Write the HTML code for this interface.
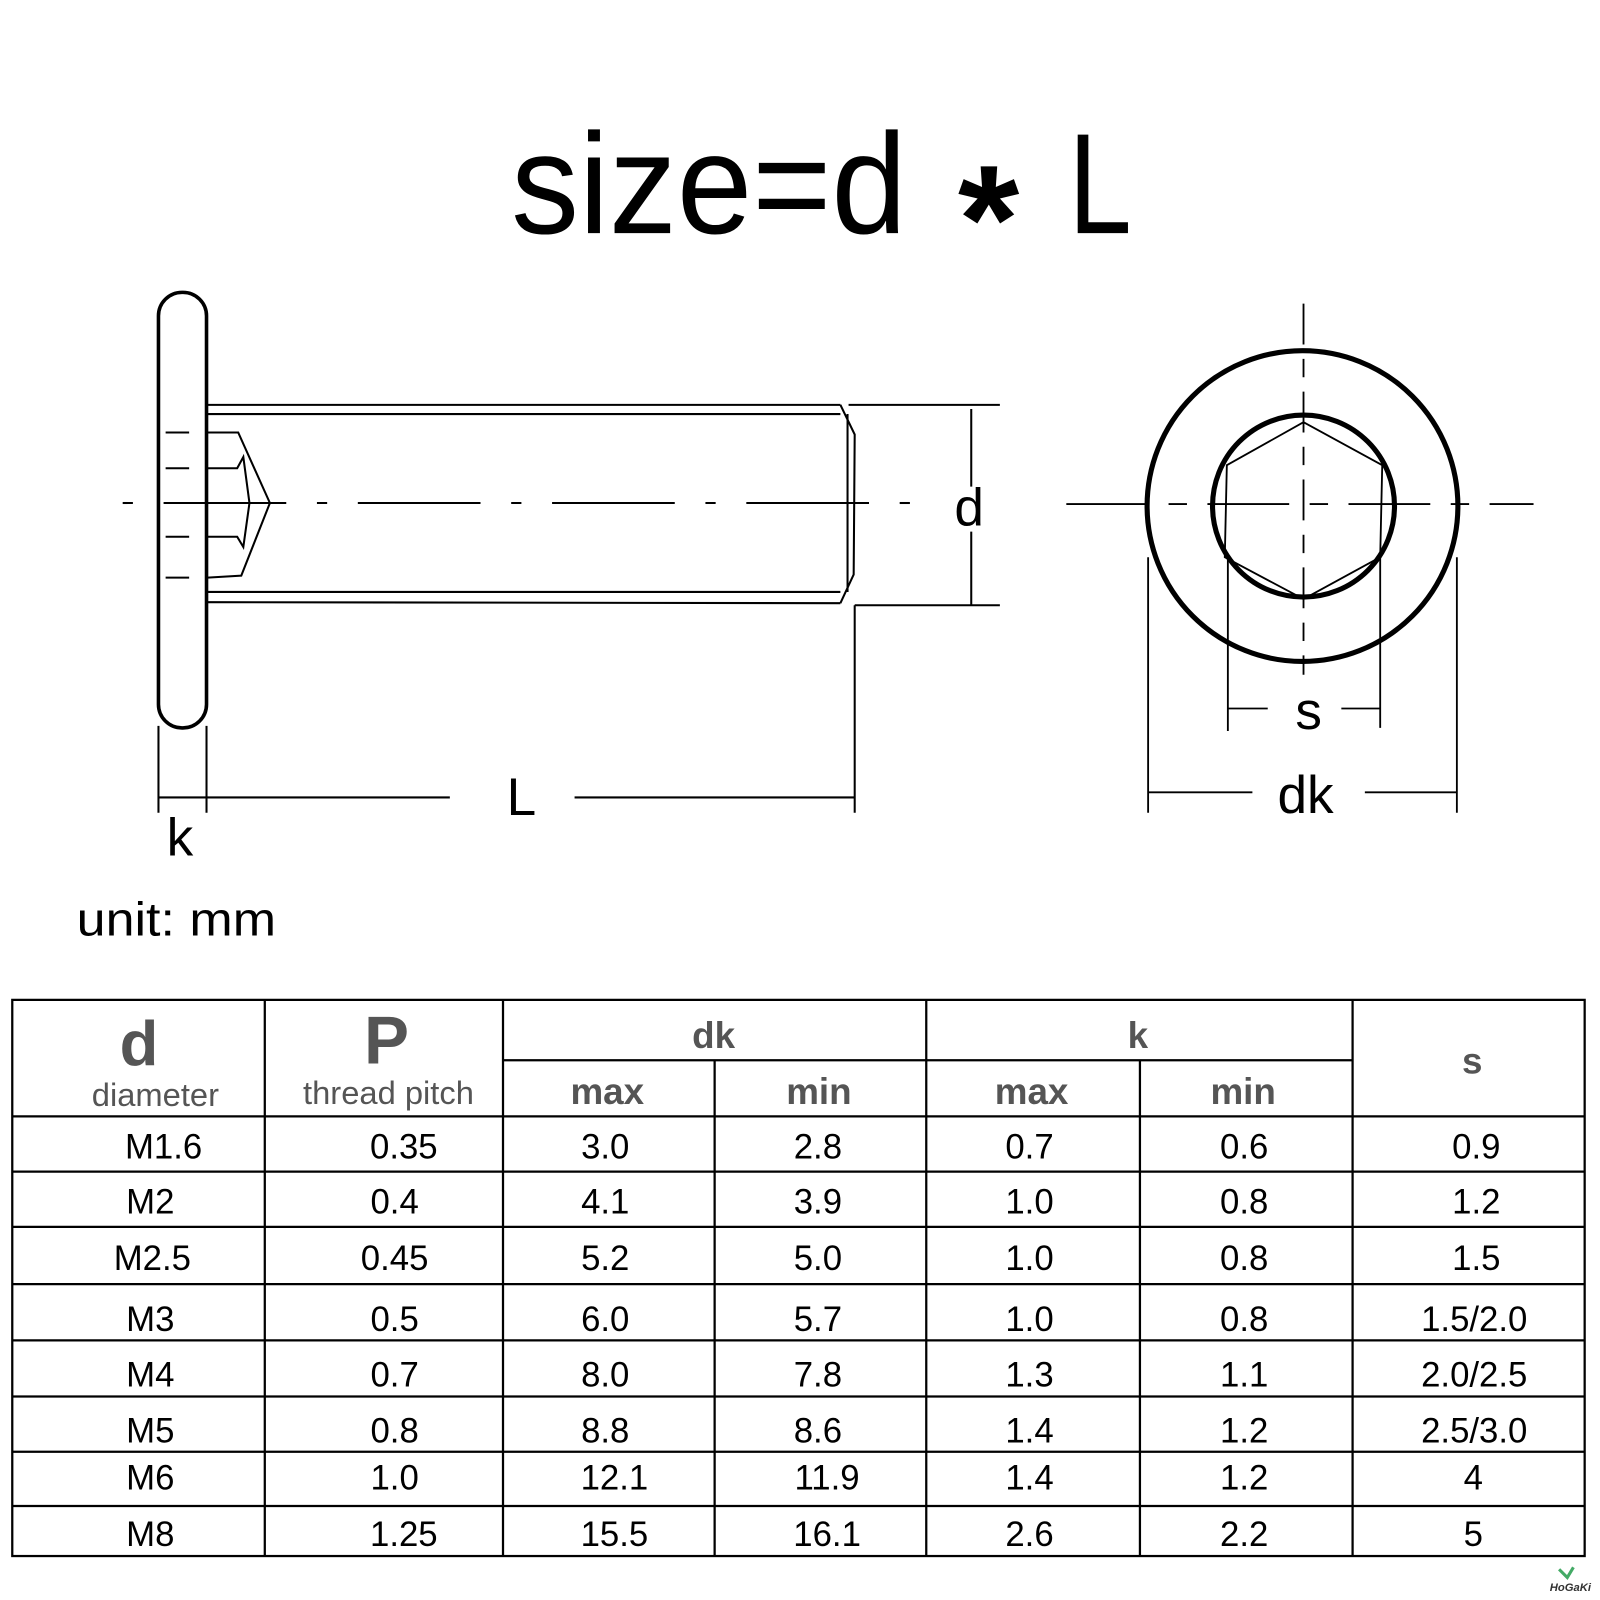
<!DOCTYPE html>
<html><head><meta charset="utf-8"><style>
html,body{margin:0;padding:0;background:#fff}
svg{display:block}
text{font-family:"Liberation Sans",sans-serif}
</style></head><body>
<svg width="1600" height="1600" viewBox="0 0 1565 1565" xmlns="http://www.w3.org/2000/svg">
<rect width="1565" height="1565" fill="#fff"/>
<text x="500" y="228" font-size="140" textLength="387" lengthAdjust="spacingAndGlyphs">size=d</text>
<text x="937" y="266" font-size="150" font-weight="bold" textLength="60" lengthAdjust="spacingAndGlyphs">*</text>
<text x="1045" y="228" font-size="140" textLength="62" lengthAdjust="spacingAndGlyphs">L</text>

<g fill="none" stroke="#000">
<rect x="155" y="286" width="47" height="426" rx="23" stroke-width="3.5"/>
<g stroke-width="2">
<line x1="203" y1="396" x2="822" y2="396"/><line x1="203" y1="405" x2="822" y2="405"/>
<line x1="203" y1="579" x2="822" y2="579"/><line x1="203" y1="589" x2="822" y2="590"/>
<polyline points="822,396 836,425 835,562 822,590"/>
<line x1="829" y1="405" x2="829" y2="579"/>
<polyline points="203,423 233,423 264,492 236,563 203,565"/>
<polyline points="203,458 232,458 238,447 244,492 238,535 232,525 203,525"/>
<line x1="162" y1="423" x2="185" y2="423"/><line x1="162" y1="458" x2="185" y2="458"/>
<line x1="162" y1="525" x2="185" y2="525"/><line x1="162" y1="565" x2="185" y2="565"/>
<line x1="90" y1="492" x2="905" y2="492" stroke-dasharray="120,30,10,30" stroke-dashoffset="-70"/>
<line x1="830" y1="396" x2="978" y2="396"/><line x1="836" y1="592" x2="978" y2="592"/>
<line x1="950" y1="400" x2="950" y2="476"/><line x1="950" y1="520" x2="950" y2="592"/>
<line x1="836" y1="592" x2="836" y2="795"/>
<line x1="155" y1="780" x2="440" y2="780"/><line x1="562" y1="780" x2="836" y2="780"/>
<line x1="155" y1="710" x2="155" y2="795"/><line x1="202" y1="710" x2="202" y2="795"/>
</g>
<circle cx="1274" cy="495" r="152" stroke-width="5"/>
<circle cx="1275" cy="495" r="89" stroke-width="5"/>
<g stroke-width="1.8">
<polygon points="1275,413 1352,455 1350,545 1275,586 1198,545 1200,455"/>
<line x1="1043" y1="493" x2="1500" y2="493" stroke-dasharray="80,20,18,20"/>
<line x1="1275" y1="297" x2="1275" y2="660" stroke-dasharray="40,14,18,14"/>
<line x1="1201" y1="545" x2="1201" y2="715"/><line x1="1350" y1="545" x2="1350" y2="712"/>
<line x1="1201" y1="693" x2="1240" y2="693"/><line x1="1312" y1="693" x2="1350" y2="693"/>
<line x1="1123" y1="545" x2="1123" y2="795"/><line x1="1425" y1="545" x2="1425" y2="795"/>
<line x1="1123" y1="775" x2="1225" y2="775"/><line x1="1335" y1="775" x2="1425" y2="775"/>
</g>
</g>
<g font-size="52">
<text x="948" y="514" text-anchor="middle">d</text>
<text x="510" y="797" text-anchor="middle">L</text>
<text x="176" y="837" text-anchor="middle">k</text>
<text x="1280" y="713" text-anchor="middle">s</text>
<text x="1277" y="795" text-anchor="middle">dk</text>
</g>
<text x="75" y="915" font-size="46" textLength="195" lengthAdjust="spacingAndGlyphs">unit: mm</text>

<g stroke="#000" stroke-width="2.2" fill="none">
<rect x="12" y="978" width="1538" height="544"/>
<line x1="259" y1="978" x2="259" y2="1522"/><line x1="492" y1="978" x2="492" y2="1522"/>
<line x1="699" y1="1037" x2="699" y2="1522"/><line x1="906" y1="978" x2="906" y2="1522"/>
<line x1="1115" y1="1037" x2="1115" y2="1522"/><line x1="1323" y1="978" x2="1323" y2="1522"/>
<line x1="492" y1="1037" x2="1323" y2="1037"/>
<line x1="12" y1="1092" x2="1550" y2="1092"/><line x1="12" y1="1146" x2="1550" y2="1146"/>
<line x1="12" y1="1200" x2="1550" y2="1200"/><line x1="12" y1="1256" x2="1550" y2="1256"/>
<line x1="12" y1="1311" x2="1550" y2="1311"/><line x1="12" y1="1366" x2="1550" y2="1366"/>
<line x1="12" y1="1420" x2="1550" y2="1420"/><line x1="12" y1="1473" x2="1550" y2="1473"/>
</g>
<g fill="#555" text-anchor="middle">
<text x="136" y="1042" font-size="62" font-weight="bold">d</text>
<text x="152" y="1082" font-size="32">diameter</text>
<text x="378" y="1040" font-size="66" font-weight="bold">P</text>
<text x="380" y="1080" font-size="32">thread pitch</text>
<text x="698" y="1025" font-size="36" font-weight="bold">dk</text>
<text x="1113" y="1025" font-size="36" font-weight="bold">k</text>
<text x="1440" y="1050" font-size="36" font-weight="bold">s</text>
<text x="594" y="1080" font-size="36" font-weight="bold">max</text>
<text x="801" y="1080" font-size="36" font-weight="bold">min</text>
<text x="1009" y="1080" font-size="36" font-weight="bold">max</text>
<text x="1216" y="1080" font-size="36" font-weight="bold">min</text>
</g>
<g font-size="34" text-anchor="middle" fill="#000">
<text x="160" y="1133">M1.6</text><text x="395" y="1133">0.35</text><text x="592" y="1133">3.0</text><text x="800" y="1133">2.8</text><text x="1007" y="1133">0.7</text><text x="1217" y="1133">0.6</text><text x="1444" y="1133">0.9</text>
<text x="147" y="1187">M2</text><text x="386" y="1187">0.4</text><text x="592" y="1187">4.1</text><text x="800" y="1187">3.9</text><text x="1007" y="1187">1.0</text><text x="1217" y="1187">0.8</text><text x="1444" y="1187">1.2</text>
<text x="149" y="1242">M2.5</text><text x="386" y="1242">0.45</text><text x="592" y="1242">5.2</text><text x="800" y="1242">5.0</text><text x="1007" y="1242">1.0</text><text x="1217" y="1242">0.8</text><text x="1444" y="1242">1.5</text>
<text x="147" y="1302">M3</text><text x="386" y="1302">0.5</text><text x="592" y="1302">6.0</text><text x="800" y="1302">5.7</text><text x="1007" y="1302">1.0</text><text x="1217" y="1302">0.8</text><text x="1442" y="1302">1.5/2.0</text>
<text x="147" y="1356">M4</text><text x="386" y="1356">0.7</text><text x="592" y="1356">8.0</text><text x="800" y="1356">7.8</text><text x="1007" y="1356">1.3</text><text x="1217" y="1356">1.1</text><text x="1442" y="1356">2.0/2.5</text>
<text x="147" y="1411">M5</text><text x="386" y="1411">0.8</text><text x="592" y="1411">8.8</text><text x="800" y="1411">8.6</text><text x="1007" y="1411">1.4</text><text x="1217" y="1411">1.2</text><text x="1442" y="1411">2.5/3.0</text>
<text x="147" y="1457">M6</text><text x="386" y="1457">1.0</text><text x="601" y="1457">12.1</text><text x="809" y="1457">11.9</text><text x="1007" y="1457">1.4</text><text x="1217" y="1457">1.2</text><text x="1441" y="1457">4</text>
<text x="147" y="1512">M8</text><text x="395" y="1512">1.25</text><text x="601" y="1512">15.5</text><text x="809" y="1512">16.1</text><text x="1007" y="1512">2.6</text><text x="1217" y="1512">2.2</text><text x="1441" y="1512">5</text>
</g>
<text x="1536" y="1556" font-size="11" font-style="italic" font-weight="bold" fill="#333" text-anchor="middle">HoGaKi</text>
<path d="M1525 1535 l8 8 l6 -10" stroke="#4a6" stroke-width="3" fill="none"/>
</svg>
</body></html>
